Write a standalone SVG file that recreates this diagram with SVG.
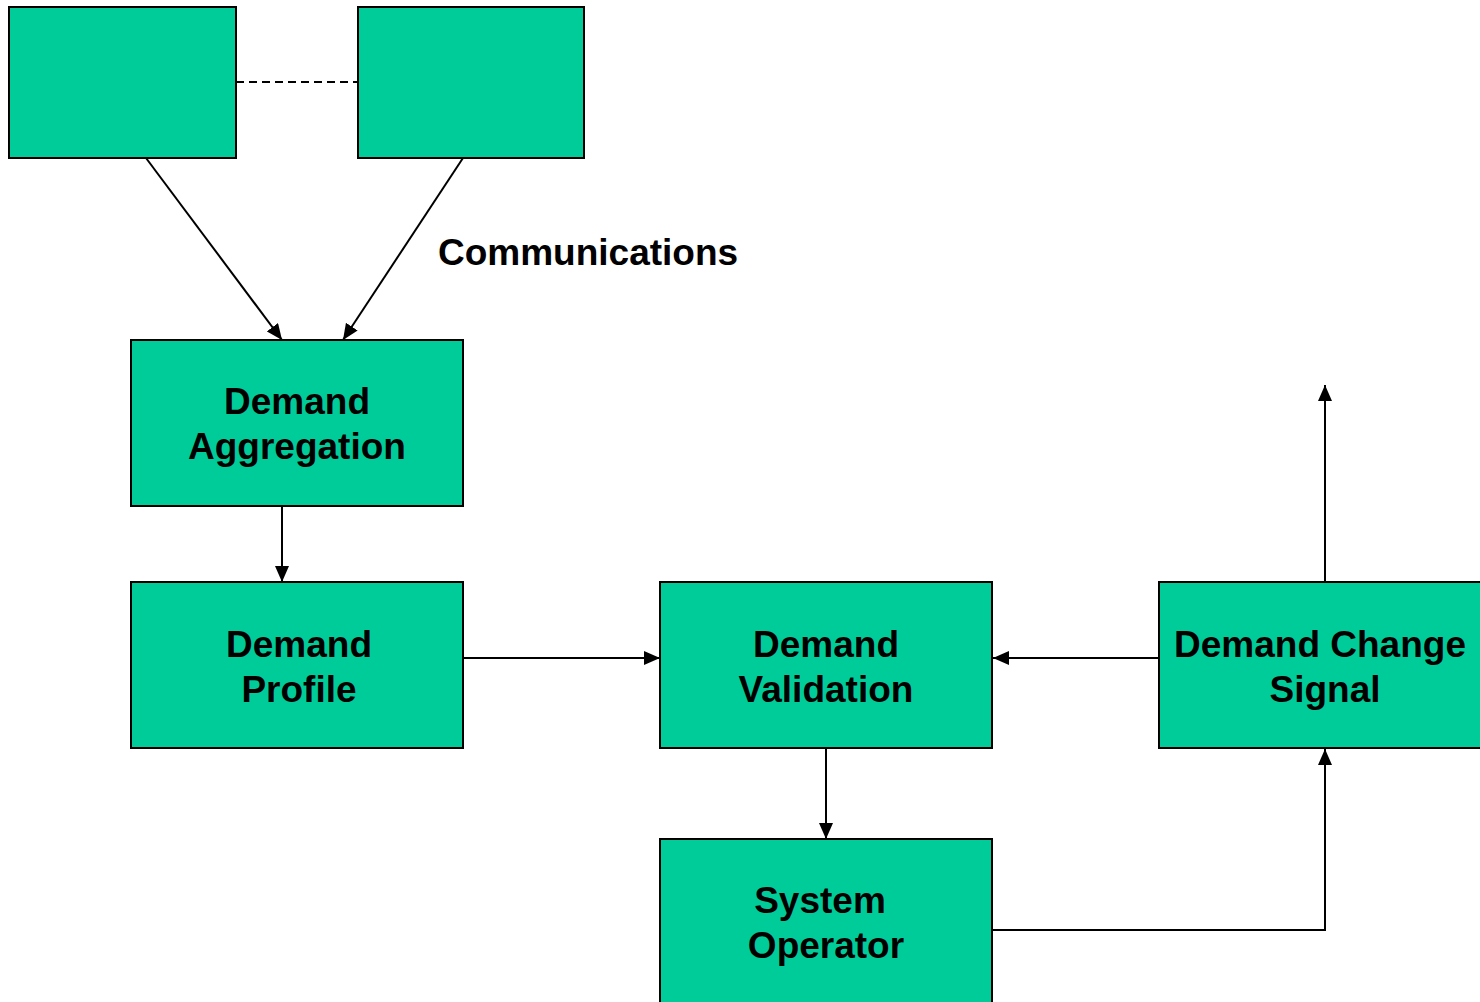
<svg xmlns="http://www.w3.org/2000/svg" width="1480" height="1002" viewBox="0 0 1480 1002">
<style>
.box{fill:#00CC99;stroke:#000;stroke-width:2}
.t{font-family:"Liberation Sans",Arial,sans-serif;font-weight:bold;font-size:37px;fill:#000;text-anchor:middle}
.c{fill:none;stroke:#000;stroke-width:2}
</style>
<defs>
<marker id="ah" viewBox="0 0 16 14" refX="16" refY="7" markerWidth="16" markerHeight="14" markerUnits="userSpaceOnUse" orient="auto">
<path d="M0,0 L16,7 L0,14 Z" fill="#000"/>
</marker>
</defs>
<rect width="1480" height="1002" fill="#fff"/>
<g id="connectors">
<line class="c" x1="236" y1="82" x2="358" y2="82" stroke-dasharray="8,5"/>
<line class="c" x1="146" y1="158" x2="282" y2="340" marker-end="url(#ah)"/>
<line class="c" x1="463" y1="158" x2="343" y2="340" marker-end="url(#ah)"/>
<line class="c" x1="282" y1="506" x2="282" y2="582" marker-end="url(#ah)"/>
<line class="c" x1="463" y1="658" x2="660" y2="658" marker-end="url(#ah)"/>
<line class="c" x1="1159" y1="658" x2="993" y2="658" marker-end="url(#ah)"/>
<line class="c" x1="826" y1="748" x2="826" y2="839" marker-end="url(#ah)"/>
<polyline class="c" points="993,930 1325,930 1325,749" marker-end="url(#ah)"/>
<line class="c" x1="1325" y1="582" x2="1325" y2="385" marker-end="url(#ah)"/>
</g>
<g id="label-communications"><text class="t" x="438" y="265" style="text-anchor:start">Communications</text></g>
<g id="node-top-left"><rect class="box" x="9" y="7" width="227" height="151"/></g>
<g id="node-top-right"><rect class="box" x="358" y="7" width="226" height="151"/></g>
<g id="node-aggregation"><rect class="box" x="131" y="340" width="332" height="166"/>
<text class="t" x="297" y="414">Demand</text><text class="t" x="297" y="459">Aggregation</text></g>
<g id="node-profile"><rect class="box" x="131" y="582" width="332" height="166"/>
<text class="t" x="299" y="657">Demand</text><text class="t" x="299" y="702">Profile</text></g>
<g id="node-validation"><rect class="box" x="660" y="582" width="332" height="166"/>
<text class="t" x="826" y="657">Demand</text><text class="t" x="826" y="702">Validation</text></g>
<g id="node-change-signal"><rect class="box" x="1159" y="582" width="330" height="166"/>
<text class="t" x="1320" y="657">Demand Change</text><text class="t" x="1325" y="702">Signal</text></g>
<g id="node-system-operator"><rect class="box" x="660" y="839" width="332" height="170"/>
<text class="t" x="820" y="913">System</text><text class="t" x="826" y="958">Operator</text></g>
</svg>
